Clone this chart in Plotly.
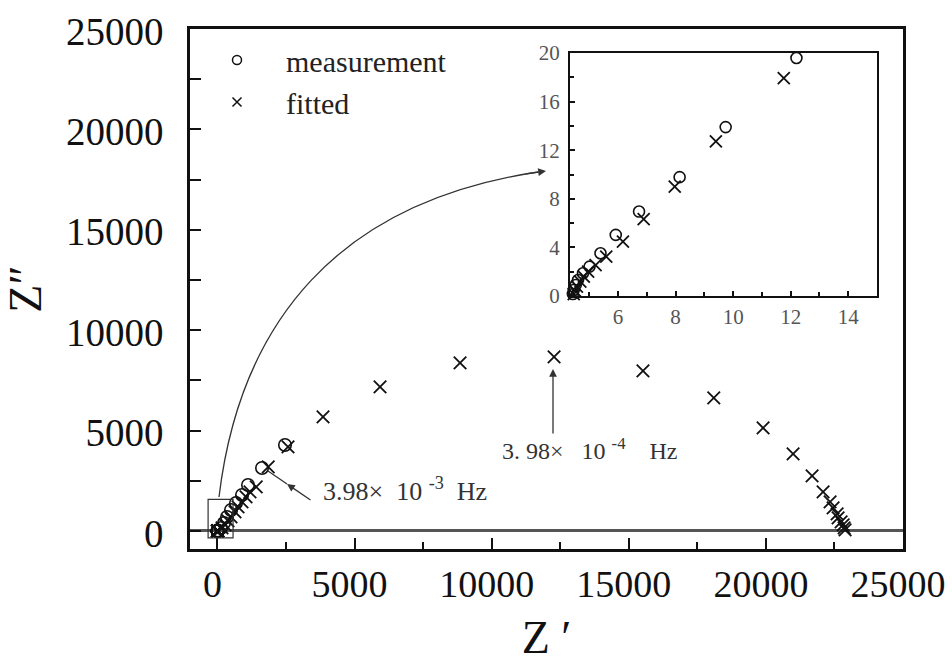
import plotly.graph_objects as go

# ---------------- data ----------------
# measurement (main plot), Z' and Z'' in ohm
meas_x = [4.43, 4.46, 4.53, 4.61, 4.78, 5.01, 5.39, 5.92, 6.73, 8.14, 9.74, 12.20,
          131, 241, 350, 496, 678, 897, 1116, 1627, 2464]
meas_y = [0.16, 0.49, 0.91, 1.32, 1.87, 2.42, 3.52, 5.03, 6.95, 9.78, 13.90, 19.59,
          149, 398, 697, 1046, 1394, 1793, 2291, 3137, 4283]
# fitted (main plot)
fit_x = [4.46, 4.50, 4.57, 4.69, 4.81, 4.96, 5.22, 5.59, 6.17, 6.89, 7.97, 9.40, 11.76,
         168, 277, 387, 496, 642, 752, 897, 1043, 1189, 1415, 1853, 2575, 3851, 5930, 8848,
         12276, 15518, 18100, 19898, 20992, 21685, 22086, 22341, 22451, 22597, 22633,
         22743, 22816, 22852, 22889]
fit_y = [0.16, 0.44, 0.77, 1.18, 1.59, 2.00, 2.55, 3.24, 4.48, 6.32, 9.01, 12.72, 17.94,
         149, 299, 498, 697, 946, 1195, 1444, 1693, 1942, 2191, 3187, 4183, 5677, 7171, 8367,
         8665, 7968, 6623, 5129, 3835, 2739, 1942, 1444, 1145, 847, 647,
         448, 299, 149, 50]
# inset (high-frequency region)
ins_meas_x = [4.43, 4.46, 4.53, 4.61, 4.78, 5.01, 5.39, 5.92, 6.73, 8.14, 9.74, 12.20]
ins_meas_y = [0.16, 0.49, 0.91, 1.32, 1.87, 2.42, 3.52, 5.03, 6.95, 9.78, 13.90, 19.59]
ins_fit_x = [4.46, 4.50, 4.57, 4.69, 4.81, 4.96, 5.22, 5.59, 6.17, 6.89, 7.97, 9.40, 11.76]
ins_fit_y = [0.16, 0.44, 0.77, 1.18, 1.59, 2.00, 2.55, 3.24, 4.48, 6.32, 9.01, 12.72, 17.94]

main_xticks = [0, 5000, 10000, 15000, 20000, 25000]
main_yticks = [0, 5000, 10000, 15000, 20000, 25000]
inset_xticks = [6, 8, 10, 12, 14]
inset_yticks = [0, 4, 8, 12, 16, 20]

# ---------------- layout helpers ----------------
W, H = 952, 663
def px(x):
    return x / W
def py(y):
    return 1 - y / H

SERIF = "Liberation Serif"
INK = "#111"

fig = go.Figure()

# main traces
fig.add_trace(go.Scatter(x=meas_x, y=meas_y, mode="markers", showlegend=False,
                         marker=dict(symbol="circle-open", size=12.5, color=INK,
                                     line=dict(width=1.6, color=INK))))
fig.add_trace(go.Scatter(x=fit_x, y=fit_y, mode="markers", showlegend=False,
                         marker=dict(symbol="x-thin-open", size=12.5, color=INK,
                                     line=dict(width=1.8, color=INK))))
# legend entries
fig.add_trace(go.Scatter(x=[None], y=[None], mode="markers", name="measurement",
                         marker=dict(symbol="circle-open", size=9, color=INK,
                                     line=dict(width=1.5, color=INK))))
fig.add_trace(go.Scatter(x=[None], y=[None], mode="markers", name="fitted",
                         marker=dict(symbol="x-thin-open", size=9, color=INK,
                                     line=dict(width=1.5, color=INK))))
# inset traces
fig.add_trace(go.Scatter(x=ins_meas_x, y=ins_meas_y, mode="markers", showlegend=False,
                         xaxis="x2", yaxis="y2", cliponaxis=False,
                         marker=dict(symbol="circle-open", size=11, color=INK,
                                     line=dict(width=1.6, color=INK))))
fig.add_trace(go.Scatter(x=ins_fit_x, y=ins_fit_y, mode="markers", showlegend=False,
                         xaxis="x2", yaxis="y2", cliponaxis=False,
                         marker=dict(symbol="x-thin-open", size=12, color=INK,
                                     line=dict(width=1.8, color=INK))))

axis_common = dict(showgrid=False, showline=True, linecolor="#111", mirror=True,
                   ticks="inside", tickcolor="#111", color="#111", automargin=False,
                   tickformat="d")

fig.update_layout(
    width=W, height=H,
    margin=dict(l=0, r=0, t=0, b=0, autoexpand=False),
    paper_bgcolor="white", plot_bgcolor="rgba(0,0,0,0)",
    font=dict(family=SERIF, color="#111"),
    xaxis=dict(domain=[px(190), px(903)], range=[-1000, 25000], tickvals=main_xticks,
               ticklen=11, tickwidth=2, linewidth=2.5, zeroline=False,
               minor=dict(dtick=2500, ticklen=7, tickwidth=2, ticks="inside", tickcolor="#111"),
               tickfont=dict(family=SERIF, size=38, color="#111"),
               ticklabelstandoff=0, ticklabelshift=-5,
               title=dict(text="Z ′", font=dict(family=SERIF, size=46, color="#111"),
                          standoff=33),
               anchor="y", **axis_common),
    yaxis=dict(domain=[py(549), py(29)], range=[-900, 25000], tickvals=main_yticks,
               ticklen=11, tickwidth=2, linewidth=2.5,
               zeroline=True, zerolinecolor="#555", zerolinewidth=2.5,
               minor=dict(dtick=2500, ticklen=11, tickwidth=2, ticks="inside", tickcolor="#111"),
               tickfont=dict(family=SERIF, size=39, color="#111"),
               ticklabelstandoff=16, ticklabelshift=2,
               title=dict(text="Z″", font=dict(family=SERIF, size=46, color="#111"),
                          standoff=12),
               anchor="x", **axis_common),
    xaxis2=dict(domain=[px(570), px(877)], range=[4.33, 15], tickvals=inset_xticks,
                ticklen=5, tickwidth=1.5, linewidth=2, zeroline=False,
                minor=dict(dtick=1, ticklen=4, tickwidth=1.5, ticks="inside", tickcolor="#111"),
                tickfont=dict(family=SERIF, size=21, color="#555"),
                ticklabelstandoff=1,
                anchor="y2", **axis_common),
    yaxis2=dict(domain=[py(296), py(53)], range=[0, 20], tickvals=inset_yticks,
                ticklen=5, tickwidth=1.5, linewidth=2, zeroline=False,
                minor=dict(dtick=2, ticklen=4, tickwidth=1.5, ticks="inside", tickcolor="#111"),
                tickfont=dict(family=SERIF, size=21, color="#555"),
                ticklabelstandoff=4,
                anchor="x2", **axis_common),
    legend=dict(x=px(188), y=py(34), xanchor="left", yanchor="top",
                bgcolor="rgba(0,0,0,0)", font=dict(family=SERIF, size=30, color="#222"),
                itemwidth=88, tracegroupgap=0),
)

# box around the high-frequency region
fig.add_shape(type="rect", xref="x", yref="y", x0=-340, x1=570, y0=-350, y1=1570,
              line=dict(color="#333", width=1.2))

# curved arrow from the box to the inset
P0, P1, P2, P3 = (219, 497), (240, 322), (338, 202), (538, 172)
path = "M {},{} C {},{} {},{} {},{}".format(px(P0[0]), py(P0[1]), px(P1[0]), py(P1[1]),
                                          px(P2[0]), py(P2[1]), px(P3[0]), py(P3[1]))
fig.add_shape(type="path", xref="paper", yref="paper", path=path,
              line=dict(color="#333", width=1.3))
fig.add_annotation(xref="paper", yref="paper", x=px(546), y=py(171), ax=-22, ay=3,
                   axref="pixel", ayref="pixel", showarrow=True, arrowhead=2,
                   arrowsize=1.2, arrowwidth=1.3, arrowcolor="#333", text="")

# frequency annotations
fig.add_annotation(xref="paper", yref="paper", x=px(321), y=py(489), xanchor="left",
                   yanchor="middle", showarrow=False,
                   text="3.98×  10 <sup>-3</sup>  Hz",
                   font=dict(family=SERIF, size=26, color="#333"))
fig.add_shape(type="line", xref="paper", yref="paper", x0=px(287), y0=py(484),
              x1=px(268), y1=py(471), line=dict(color="#333", width=1.3))
fig.add_annotation(xref="paper", yref="paper", x=px(287), y=py(484), ax=25, ay=17,
                   axref="pixel", ayref="pixel", showarrow=True, arrowhead=2,
                   arrowsize=1.2, arrowwidth=1.3, arrowcolor="#333", text="")

fig.add_annotation(xref="paper", yref="paper", x=px(500), y=py(449), xanchor="left",
                   yanchor="middle", showarrow=False,
                   text="3. 98×   10 <sup>-4</sup>    Hz",
                   font=dict(family=SERIF, size=24, color="#333"))
fig.add_annotation(xref="paper", yref="paper", x=px(553), y=py(369), ax=0, ay=66,
                   axref="pixel", ayref="pixel", showarrow=True, arrowhead=2,
                   arrowsize=1.2, arrowwidth=1.3, arrowcolor="#333", text="")

fig.write_html("out.html")
